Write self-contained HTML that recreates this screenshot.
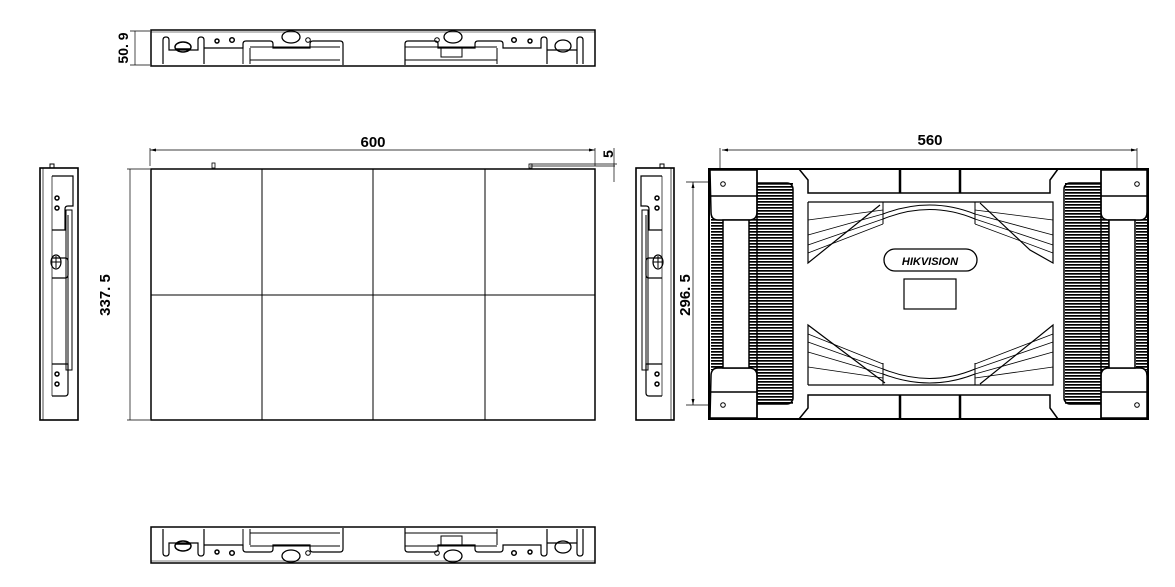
<!DOCTYPE html>
<html><head><meta charset="utf-8"><style>
html,body{margin:0;padding:0;background:#fff;}
svg{display:block;}
text{font-family:"Liberation Sans",sans-serif;font-weight:bold;fill:#000;}
</style></head><body>
<svg width="1175" height="587" viewBox="0 0 1175 587" xmlns="http://www.w3.org/2000/svg">
<defs>
<pattern id="fin" width="6" height="3" patternUnits="userSpaceOnUse">
<rect width="6" height="3" fill="#fff"/><rect y="0" width="6" height="1.7" fill="#000"/>
</pattern>
<g id="topv">
<rect x="151" y="30" width="444" height="36" fill="none" stroke="#000" stroke-width="1.5"/>
<line x1="151" y1="32" x2="595" y2="32" stroke="#000" stroke-width="0.6"/>
<path d="M163 64 V40 q0-3 3-3 q3 0 3 3 V50 H198 V40 q0-3 3-3 q3 0 3 3 V64" fill="none" stroke="#000" stroke-width="1.2"/>
<ellipse cx="183" cy="47" rx="8" ry="5" fill="none" stroke="#000" stroke-width="1.5"/>
<path d="M176 49 h14" stroke="#000" stroke-width="1.5"/>
<path d="M204 48 H243 V44 q0-3 3-3 H270 q3 0 3 3 V48 H310 V44 q0-3 3-3 H340 q3 0 3 3 V65" fill="none" stroke="#000" stroke-width="1.2"/>
<path d="M243 48 V64 M250 48 V64 M250 47 H340 M250 60 H340" fill="none" stroke="#000" stroke-width="1"/>
<circle cx="217" cy="41" r="2" fill="none" stroke="#000" stroke-width="1.5"/>
<circle cx="232" cy="40" r="2.3" fill="none" stroke="#000" stroke-width="1.5"/>
<ellipse cx="291" cy="37" rx="9" ry="6" fill="none" stroke="#000" stroke-width="1.3"/>
<circle cx="308" cy="40" r="2.3" fill="none" stroke="#000" stroke-width="1"/>
<path d="M405 65 V44 q0-3 3-3 H435 q3 0 3 3 V48 H475 V44 q0-3 3-3 H500 q3 0 3 3 V48 H541 V40 q0-3 3-3 q3 0 3 3 V64 M577 64 V40 q0-3 3-3 q3 0 3 3 V64 M547 50 H577" fill="none" stroke="#000" stroke-width="1.2"/>
<path d="M497 48 V64 M405 47 H497 M405 60 H497" fill="none" stroke="#000" stroke-width="1"/>
<rect x="441" y="47" width="21" height="10" fill="none" stroke="#000" stroke-width="1"/>
<ellipse cx="453" cy="37" rx="9" ry="6" fill="none" stroke="#000" stroke-width="1.3"/>
<circle cx="437" cy="40" r="2.3" fill="none" stroke="#000" stroke-width="1"/>
<circle cx="514" cy="40" r="2.3" fill="none" stroke="#000" stroke-width="1.5"/>
<circle cx="530" cy="41" r="2" fill="none" stroke="#000" stroke-width="1.5"/>
<ellipse cx="563" cy="46" rx="8" ry="6" fill="none" stroke="#000" stroke-width="1.3"/>
</g>
<g id="sidev">
<rect x="0" y="168" width="38" height="252" fill="none" stroke="#000" stroke-width="1.6"/>
<path d="M3 168 V420" stroke="#000" stroke-width="0.7"/>
<path d="M12 176 H33 V206 H28 q-3 0-3 3 V230 H12 M12 258 H25 q3 0 3 3 V275 q0 3-3 3 H12 M12 364 H28 V393 q0 3-3 3 H12" fill="none" stroke="#000" stroke-width="1.2"/>
<path d="M12 176 V396" stroke="#000" stroke-width="0.7"/>
<rect x="26" y="210" width="6" height="160" fill="none" stroke="#000" stroke-width="1"/>
<path d="M28 215 V365" stroke="#000" stroke-width="1"/>
<circle cx="17" cy="198" r="2" fill="none" stroke="#000" stroke-width="1.5"/>
<circle cx="17" cy="208" r="2" fill="none" stroke="#000" stroke-width="1.5"/>
<circle cx="17" cy="374" r="2" fill="none" stroke="#000" stroke-width="1.5"/>
<circle cx="17" cy="384" r="2" fill="none" stroke="#000" stroke-width="1.5"/>
<ellipse cx="16" cy="262" rx="5" ry="7" fill="none" stroke="#000" stroke-width="1.2"/>
<path d="M11 262 H21 M16 256 V268" stroke="#000" stroke-width="1"/>
<rect x="10" y="164" width="4" height="4" fill="none" stroke="#000" stroke-width="1"/>
</g>
</defs>

<!-- top view -->
<use href="#topv"/>
<path d="M130 31 H150 M130 65 H150 M135 31 V65" stroke="#000" stroke-width="0.7"/>
<text transform="translate(128,48) rotate(-90)" font-size="14" text-anchor="middle">50. 9</text>

<!-- bottom view -->
<g transform="translate(0,593) scale(1,-1)"><use href="#topv"/></g>

<!-- front view -->
<rect x="151" y="169" width="444" height="251" fill="none" stroke="#000" stroke-width="1.5"/>
<path d="M262 169 V420 M373 169 V420 M485 169 V420 M151 295 H595" stroke="#000" stroke-width="1"/>
<path d="M150 166 V148 M595 166 V148 M150 150 H595" stroke="#000" stroke-width="0.7"/>
<path d="M150 150 l6 -1.5 v3 z M595 150 l-6 -1.5 v3 z" fill="#000"/>
<text x="373" y="147" font-size="15" text-anchor="middle">600</text>
<rect x="212" y="163" width="3" height="5" fill="none" stroke="#000" stroke-width="0.8"/>
<rect x="529" y="164" width="3" height="4" fill="none" stroke="#000" stroke-width="0.8"/>
<path d="M530 166 H615 M530 164 H617 M614 148 V182" stroke="#000" stroke-width="0.7"/>
<text transform="translate(613,154) rotate(-90)" font-size="14" text-anchor="middle">5</text>
<path d="M127 169 H150 M127 420 H150 M130 169 V420" stroke="#000" stroke-width="0.7"/>
<text transform="translate(110,295) rotate(-90)" font-size="15" text-anchor="middle">337. 5</text>

<!-- side views -->
<g transform="translate(40,0)"><use href="#sidev"/></g>
<g transform="translate(674,0) scale(-1,1)"><use href="#sidev"/></g>

<!-- back view -->
<rect x="749" y="183" width="44" height="221" fill="url(#fin)"/>
<rect x="1065" y="183" width="44" height="221" fill="url(#fin)"/>
<rect x="711" y="215" width="12" height="155" fill="url(#fin)"/>
<rect x="1136" y="215" width="12" height="155" fill="url(#fin)"/>
<g stroke="#000" fill="none">
<rect x="709" y="169" width="439" height="250" stroke-width="2"/>
<path d="M720 148 V190 M1137 148 V190 M722 150 H1137" stroke-width="0.7"/>
<path d="M686 182 H722 M686 405 H722 M693 182 V405" stroke-width="0.7"/>
<rect x="748" y="183" width="45" height="221" rx="6" stroke-width="1.5"/>
<rect x="1064" y="183" width="45" height="221" rx="6" stroke-width="1.5"/>
</g>
<path d="M722 150 l6 -1.5 v3 z M1137 150 l-6 -1.5 v3 z M693 182 l-1.5 6 h3 z M693 405 l-1.5 -6 h3 z" fill="#000"/>
<!-- corner blocks and white columns -->
<g fill="#fff" stroke="#000" stroke-width="1.5">
<path d="M710 170 H757 V212 q0 8 -8 8 H718 q-7 0 -7 -8 Z"/>
<path d="M710 418 H757 V376 q0 -8 -8 -8 H718 q-7 0 -7 8 Z"/>
<path d="M1147 170 H1101 V212 q0 8 8 8 H1140 q7 0 7 -8 Z"/>
<path d="M1147 418 H1101 V376 q0 -8 8 -8 H1140 q7 0 7 8 Z"/>
<rect x="723" y="220" width="26" height="148"/>
<rect x="1109" y="220" width="26" height="148"/>
</g>
<path d="M711 196 H757 M711 392 H757 M1101 196 H1147 M1101 392 H1147 M757 169 V420 M1101 169 V420" stroke="#000" stroke-width="1.5"/>
<g stroke="#000" fill="none">
<path d="M799 169 L808 180 V193 H1050 V180 L1058 169 M799 419 L808 408 V395 H1050 V408 L1058 419" stroke-width="1.5"/>
<path d="M900 169 V193 M960 169 V193 M900 395 V419 M960 395 V419" stroke-width="2.5"/>
<path d="M808 202 H1053 V263 L1030 250 L980 203 M808 202 V263 L880 205 M808 385 H1053 V325 L980 384 M808 385 V325 L885 383" stroke-width="1.2"/>
<path d="M883 202 V224 M975 202 V224 M883 385 V363 M975 385 V363" stroke-width="1"/>
<path d="M883 219 Q930 200 975 219 M883 214 Q930 196 975 214 M883 369 Q930 388 975 369 M883 374 Q930 392 975 374" stroke-width="1"/>
<path d="M808 220 L883 210 M808 235 L883 214 M808 245 L883 219 M808 253 L883 224 M1053 220 L975 210 M1053 235 L975 214 M1053 245 L975 219 M1053 253 L975 224 M808 367 L883 378 M808 352 L883 374 M808 342 L883 369 M808 334 L883 364 M1053 367 L975 378 M1053 352 L975 374 M1053 342 L975 369 M1053 334 L975 364" stroke-width="0.8"/>
<rect x="884" y="249" width="93" height="22" rx="11" stroke-width="1.3"/>
<rect x="904" y="279" width="52" height="30" stroke-width="1.2"/>
<circle cx="723" cy="184" r="2.3" stroke-width="1"/>
<circle cx="1137" cy="184" r="2.3" stroke-width="1"/>
<circle cx="723" cy="405" r="2.3" stroke-width="1"/>
<circle cx="1137" cy="405" r="2.3" stroke-width="1"/>
</g>
<text x="930" y="265" font-size="11" font-style="italic" text-anchor="middle" style="font-weight:bold">HIKVISION</text>
<text transform="translate(690,295) rotate(-90)" font-size="15" text-anchor="middle">296. 5</text>
<text x="930" y="145" font-size="15" text-anchor="middle">560</text>
</svg>
</body></html>
